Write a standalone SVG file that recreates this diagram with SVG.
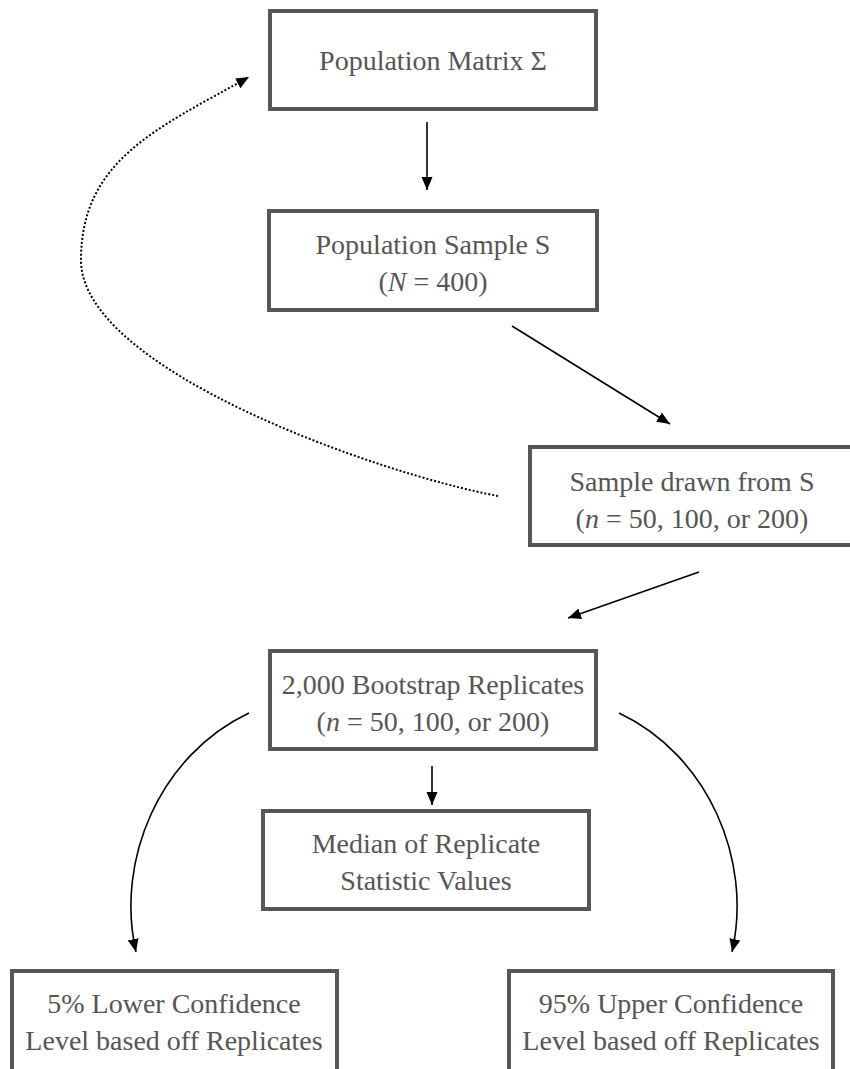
<svg xmlns="http://www.w3.org/2000/svg" width="850" height="1069" viewBox="0 0 850 1069">
  <style>
    .box { fill: #ffffff; stroke: #575757; stroke-width: 4; }
    .lbl { font-family: "Liberation Serif", "DejaVu Serif", serif; font-size: 28px; fill: #555555; text-anchor: middle; }
    .it { font-style: italic; }
    .edge { fill: none; stroke: #000000; stroke-width: 1.6; }
    .dotted { stroke-dasharray: 2 2; stroke-width: 2; }
  </style>
  <defs>
    <marker id="arrow" markerUnits="userSpaceOnUse" markerWidth="14" markerHeight="12" refX="13" refY="5.5" orient="auto">
      <path d="M0,0 L13,5.5 L0,11 z" fill="#000000"/>
    </marker>
  </defs>
  <rect width="850" height="1069" fill="#ffffff"/>

  <g id="connectors">
    <line class="edge" x1="427" y1="122" x2="427" y2="190" marker-end="url(#arrow)"/>
    <line class="edge" x1="512" y1="326" x2="670" y2="424" marker-end="url(#arrow)"/>
    <line class="edge" x1="699" y1="572" x2="568" y2="618" marker-end="url(#arrow)"/>
    <line class="edge" x1="432" y1="766" x2="432" y2="805" marker-end="url(#arrow)"/>
    <path class="edge" d="M249,713 C160,755 115,860 136,952" marker-end="url(#arrow)"/>
    <path class="edge" d="M619,713 C708,755 753,860 732,952" marker-end="url(#arrow)"/>
    <!-- feedback loop: drawn sample back to the population matrix -->
    <path class="edge dotted" d="M498,496 C380,474 81,370 81,260 C81,160 158,128 249,77" marker-end="url(#arrow)"/>
  </g>

  <g id="population-matrix">
    <rect class="box" x="270" y="11" width="326" height="98"/>
    <text class="lbl" x="433" y="70">Population Matrix Σ</text>
  </g>

  <g id="population-sample">
    <rect class="box" x="269" y="211" width="328" height="99"/>
    <text class="lbl" x="433" y="254">Population Sample S</text>
    <text class="lbl" x="433" y="291">(<tspan class="it">N</tspan> = 400)</text>
  </g>

  <g id="drawn-sample">
    <rect class="box" x="530" y="447" width="326" height="98"/>
    <text class="lbl" x="692" y="491">Sample drawn from S</text>
    <text class="lbl" x="692" y="528">(<tspan class="it">n</tspan> = 50, 100, or 200)</text>
  </g>

  <g id="bootstrap-replicates">
    <rect class="box" x="270" y="651" width="326" height="98"/>
    <text class="lbl" x="433" y="694">2,000 Bootstrap Replicates</text>
    <text class="lbl" x="433" y="731">(<tspan class="it">n</tspan> = 50, 100, or 200)</text>
  </g>

  <g id="median">
    <rect class="box" x="263" y="811" width="326" height="98"/>
    <text class="lbl" x="426" y="853">Median of Replicate</text>
    <text class="lbl" x="426" y="890">Statistic Values</text>
  </g>

  <g id="lower-confidence">
    <rect class="box" x="12" y="971" width="325" height="104"/>
    <text class="lbl" x="174" y="1013">5% Lower Confidence</text>
    <text class="lbl" x="174" y="1050">Level based off Replicates</text>
  </g>

  <g id="upper-confidence">
    <rect class="box" x="509" y="971" width="324" height="104"/>
    <text class="lbl" x="671" y="1013">95% Upper Confidence</text>
    <text class="lbl" x="671" y="1050">Level based off Replicates</text>
  </g>
</svg>
